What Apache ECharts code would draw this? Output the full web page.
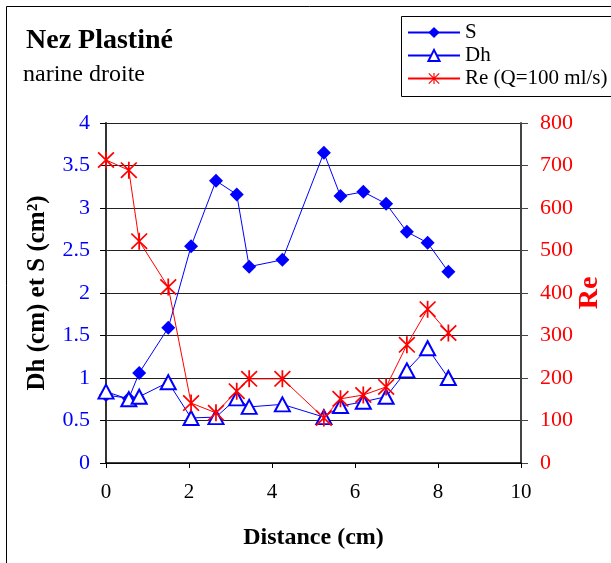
<!DOCTYPE html>
<html>
<head>
<meta charset="utf-8">
<script src="https://cdn.jsdelivr.net/npm/echarts@6/dist/echarts.min.js"></script>
<style>
  html, body { margin: 0; padding: 0; background: #fff; }
  #chart { width: 611px; height: 563px; }
</style>
</head>
<body>
<div id="chart"></div>
<script>
// distance le long du nez (cm)
const distance = [0, 0.55, 0.8, 1.5, 2.05, 2.65, 3.15, 3.45, 4.25, 5.25, 5.65, 6.2, 6.75, 7.25, 7.75, 8.25];
const surface = [0.80, 0.76, 1.06, 1.59, 2.55, 3.32, 3.16, 2.31, 2.39, 3.65, 3.14, 3.19, 3.05, 2.72, 2.59, 2.25];
const dh = [0.84, 0.75, 0.78, 0.95, 0.53, 0.54, 0.76, 0.66, 0.69, 0.54, 0.67, 0.72, 0.78, 1.09, 1.35, 1.00];
const re = [713, 689, 522, 414, 141, 118, 169, 198, 198, 106, 151, 160, 179, 278, 362, 306];

const font = 'Liberation Serif';
// asterisque façon Excel (croix + trait vertical)
const starPath = 'path://M9 0L11 0L11 20L9 20Z M0.3 1.7L1.7 0.3L19.7 18.3L18.3 19.7Z M18.3 0.3L19.7 1.7L1.7 19.7L0.3 18.3Z';

function pairs(ys) {
  return distance.map(function (x, i) { return [x, ys[i]]; });
}

const chart = echarts.init(document.getElementById('chart'));
const option = {
  animation: false,
  backgroundColor: '#fff',
  textStyle: { fontFamily: font },
  grid: { left: 106, right: 90, top: 123, bottom: 100, outerBoundsMode: 'none', containLabel: false },
  graphic: [
    { type: 'rect', shape: { x: 6.5, y: 6.5, width: 700, height: 700 }, style: { fill: null, stroke: '#000', lineWidth: 1 }, z: -10 },
    { type: 'rect', shape: { x: 401.5, y: 16.5, width: 300, height: 80 }, style: { fill: '#fff', stroke: '#000', lineWidth: 1 }, z: 0 },
    { type: 'text', left: 26, top: 27, style: { text: 'Nez Plastiné', font: 'bold 28px "Liberation Serif"', fill: '#000' } },
    { type: 'text', left: 23, top: 63, style: { text: 'narine droite', font: '24px "Liberation Serif"', fill: '#000' } }
  ],
  legend: {
    orient: 'vertical',
    left: 407,
    top: 22,
    itemWidth: 52,
    itemHeight: 14,
    itemGap: 2,
    padding: 0,
    z: 5,
    textStyle: { fontFamily: font, fontSize: 21, color: '#000' },
    data: ['S', 'Dh', 'Re (Q=100 ml/s)']
  },
  xAxis: {
    type: 'value',
    min: 0,
    max: 10,
    interval: 2,
    name: 'Distance (cm)',
    nameLocation: 'middle',
    nameGap: 63,
    nameTextStyle: { fontFamily: font, fontSize: 24, fontWeight: 'bold', color: '#000' },
    axisLine: { lineStyle: { color: '#000', width: 1.5 } },
    axisTick: { show: true, length: 5, lineStyle: { color: '#000' } },
    axisLabel: { fontFamily: font, fontSize: 21, color: '#000', margin: 19 },
    splitLine: { show: false }
  },
  yAxis: [
    {
      type: 'value',
      min: 0,
      max: 4,
      interval: 0.5,
      name: 'Dh (cm) et S (cm²)',
      nameLocation: 'middle',
      nameGap: 56,
      nameTextStyle: { fontFamily: font, fontSize: 25, fontWeight: 'bold', color: '#000' },
      axisLine: { show: true, lineStyle: { color: '#333', width: 2 } },
      axisTick: { show: true, length: 6, lineStyle: { color: '#000' } },
      axisLabel: { fontFamily: font, fontSize: 22, color: '#0000ff', margin: 16 },
      splitLine: { show: true, lineStyle: { color: '#222', width: 1 } }
    },
    {
      type: 'value',
      min: 0,
      max: 800,
      interval: 100,
      position: 'right',
      name: 'Re',
      nameLocation: 'middle',
      nameGap: 55,
      nameRotate: 90,
      nameMoveOverlap: false,
      nameTextStyle: { fontFamily: font, fontSize: 28, fontWeight: 'bold', color: '#ff0000' },
      axisLine: { show: true, lineStyle: { color: '#444', width: 2 } },
      axisTick: { show: true, length: 7, lineStyle: { color: '#444' } },
      axisLabel: { fontFamily: font, fontSize: 22, color: '#ff0000', margin: 19 },
      splitLine: { show: false }
    }
  ],
  series: [
    {
      name: 'S',
      type: 'line',
      yAxisIndex: 0,
      data: pairs(surface),
      symbol: 'diamond',
      symbolSize: 14,
      lineStyle: { color: '#0000ff', width: 1 },
      itemStyle: { color: '#0000ff' }
    },
    {
      name: 'Dh',
      type: 'line',
      yAxisIndex: 0,
      data: pairs(dh),
      symbol: 'triangle',
      symbolSize: [15, 14],
      lineStyle: { color: '#0000ff', width: 1 },
      itemStyle: { color: '#fff', borderColor: '#0000ff', borderWidth: 2 }
    },
    {
      name: 'Re (Q=100 ml/s)',
      type: 'line',
      yAxisIndex: 1,
      data: pairs(re),
      symbol: starPath,
      symbolSize: 17,
      lineStyle: { color: '#ff0000', width: 1 },
      itemStyle: { color: '#ff0000' }
    }
  ]
};
chart.setOption(option);
</script>
</body>
</html>
